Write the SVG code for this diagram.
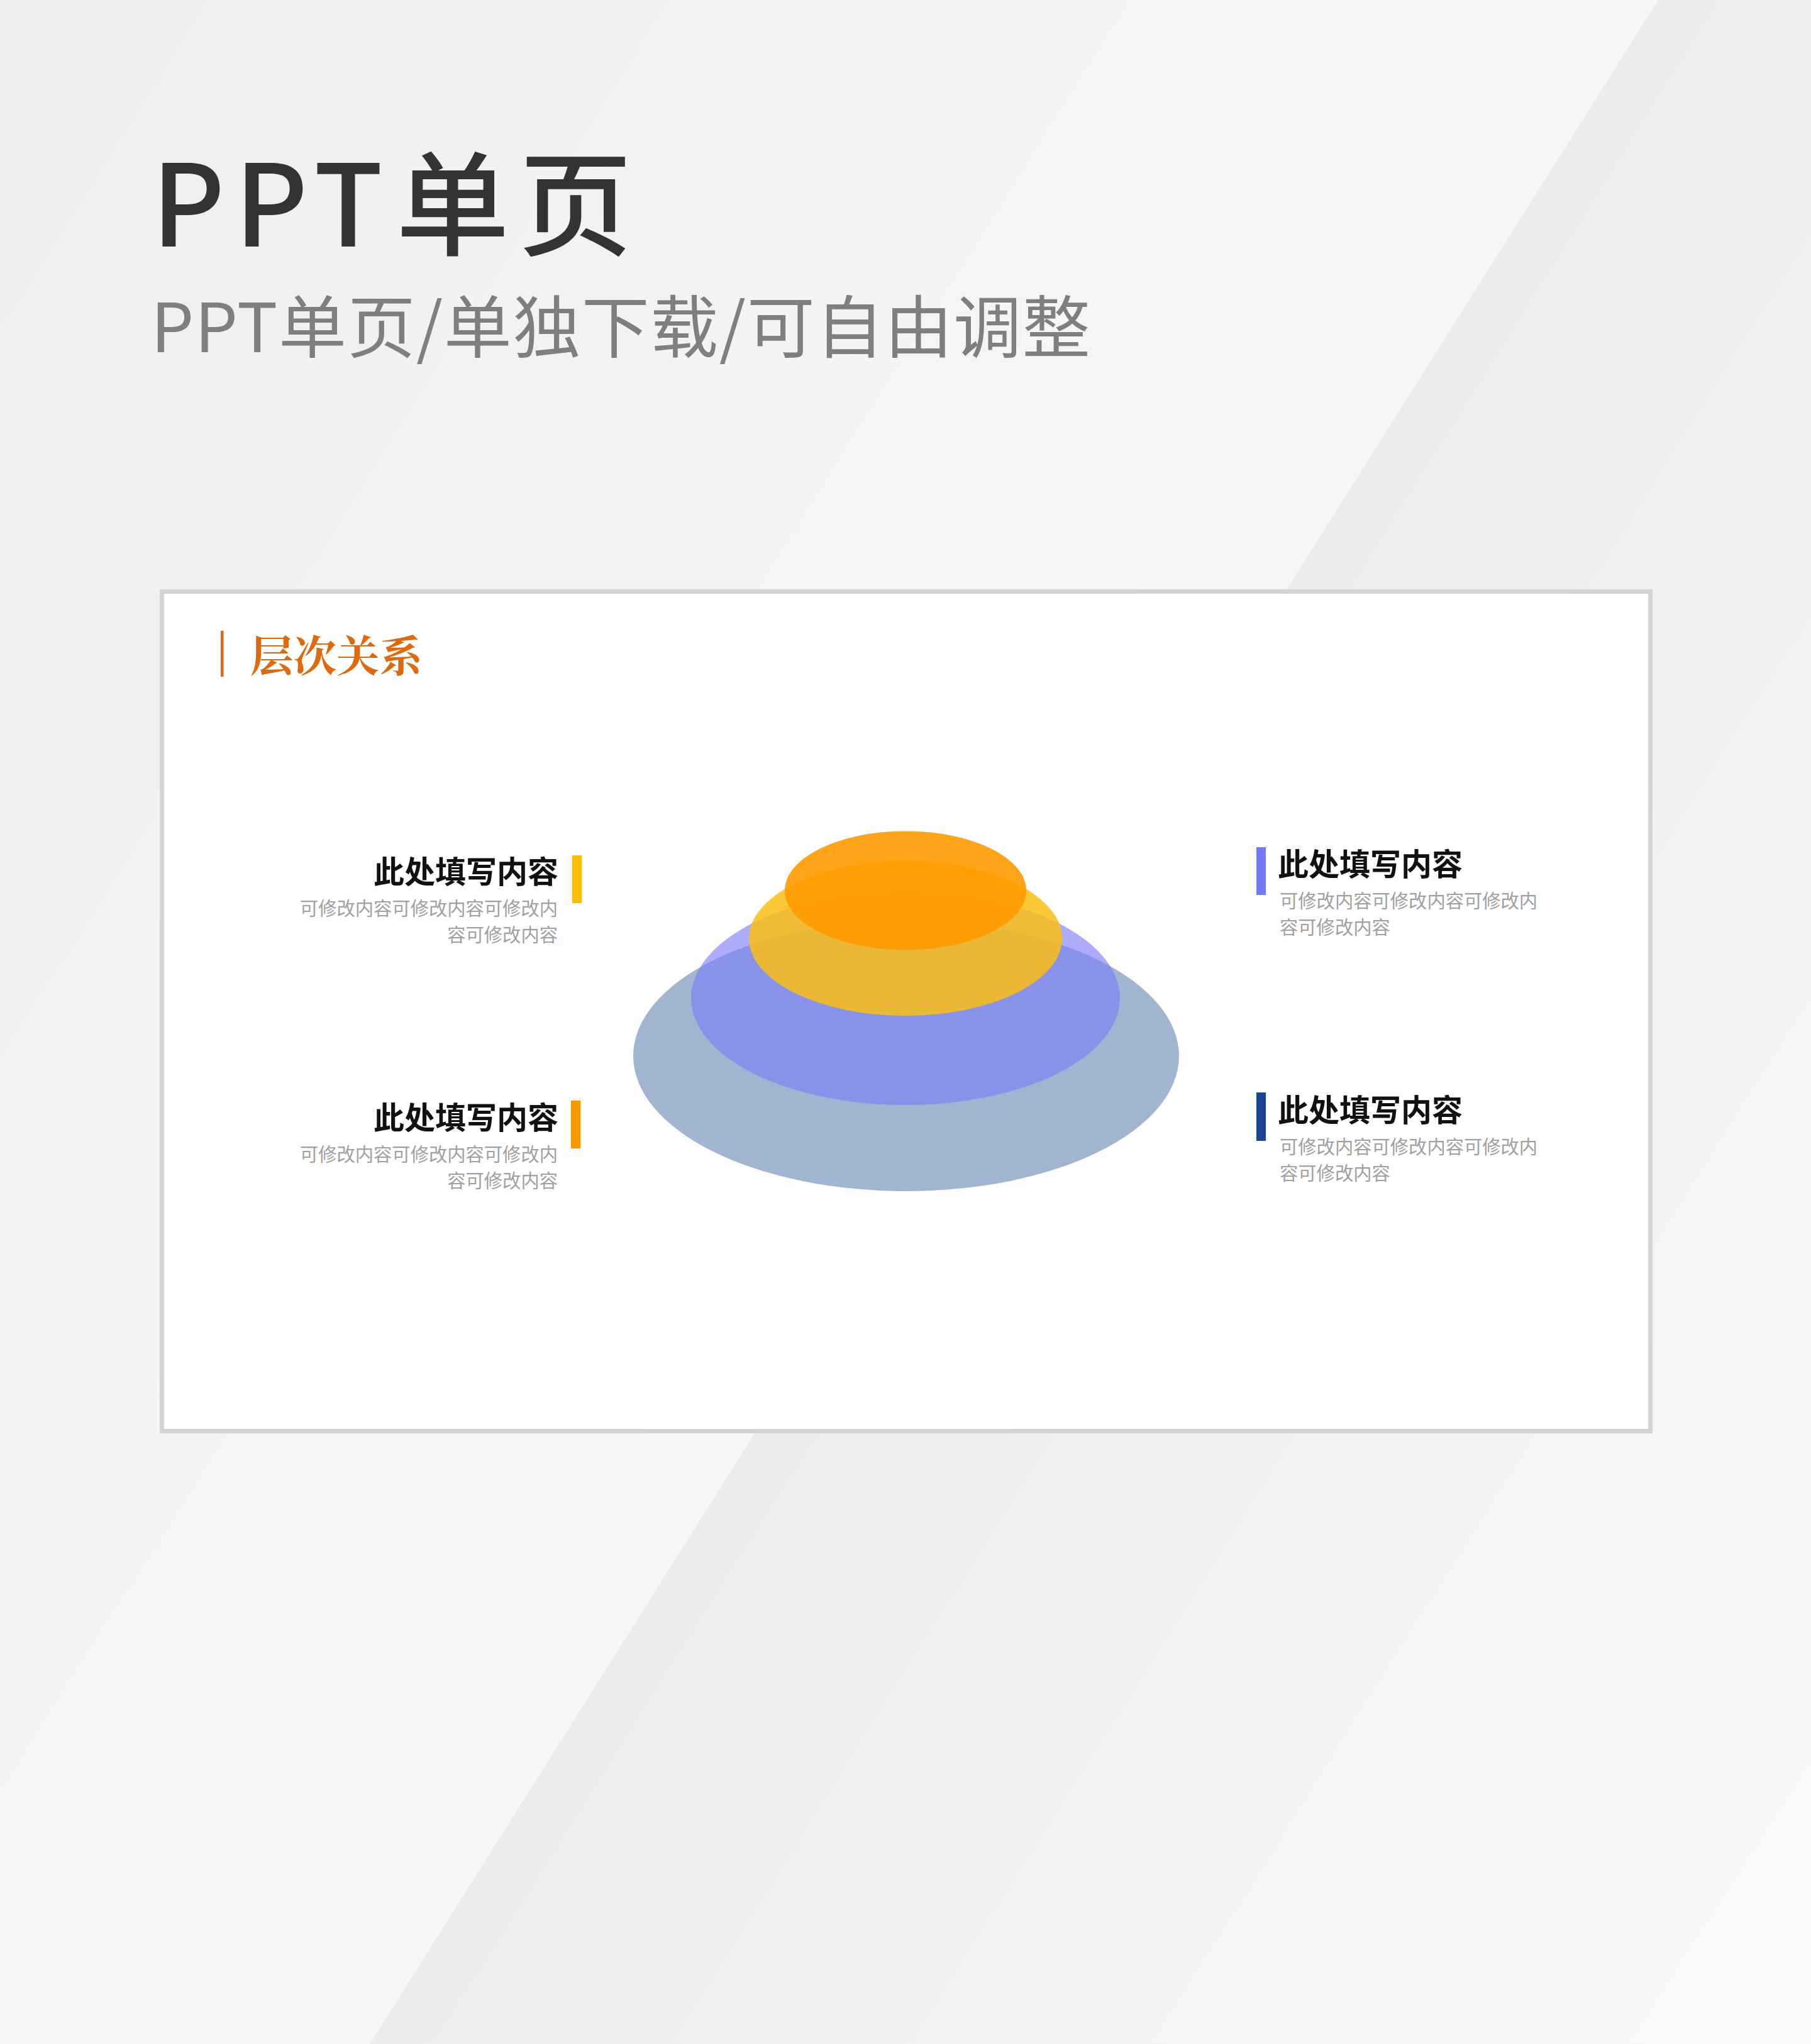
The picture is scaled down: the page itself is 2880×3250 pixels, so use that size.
<svg xmlns="http://www.w3.org/2000/svg" width="2880" height="3250" viewBox="0 0 2880 3250">
  <defs>
    <linearGradient id="bgL" gradientUnits="userSpaceOnUse" x1="0" y1="0" x2="1888" y2="1189">
      <stop offset="0" stop-color="#eeeeee"/>
      <stop offset="1" stop-color="#f7f7f7"/>
    </linearGradient>
    <linearGradient id="bgR" gradientUnits="userSpaceOnUse" x1="1888" y1="1189" x2="3527" y2="2221">
      <stop offset="0" stop-color="#ececec"/>
      <stop offset="1" stop-color="#fbfbfb"/>
    </linearGradient>
    <style>
      .title { font-family: "Noto Sans CJK SC", "Liberation Sans", sans-serif; font-weight: 700; font-size: 49px; fill: #111111; }
      .desc { font-family: "Noto Sans CJK SC", "Liberation Sans", sans-serif; font-weight: 400; font-size: 29.3px; fill: #a0a0a0; }
      .end { text-anchor: end; }
    </style>
  </defs>

  <!-- background -->
  <rect x="0" y="0" width="2880" height="3250" fill="url(#bgR)"/>
  <polygon points="0,0 2637,0 588,3250 0,3250" fill="url(#bgL)"/>

  <!-- page titles -->
  <g id="page-title">
    <text x="241 373 499 630 825" y="392" font-family="'Noto Sans CJK SC', 'Liberation Sans', sans-serif" font-weight="500" font-size="180" fill="#333333">PPT单页</text>
  </g>
  <g id="page-subtitle">
    <text x="240" y="560" font-family="'Noto Sans CJK SC', 'Liberation Sans', sans-serif" font-weight="400" font-size="108" letter-spacing="1.5" fill="#7f7f7f">PPT单页/单独下载/可自由调整</text>
  </g>

  <!-- card -->
  <g id="card">
    <rect x="257.5" y="940.5" width="2367" height="1335" fill="#ffffff" stroke="#d4d4d4" stroke-width="7"/>
  </g>

  <g id="card-header">
    <rect x="351" y="1003" width="4.5" height="73" fill="#e0660b"/>
    <text x="398" y="1068" font-family="'Noto Serif CJK SC', 'Noto Sans CJK SC', serif" font-weight="700" font-size="68.5" fill="#de6a10">层次关系</text>
  </g>

  <!-- layered ellipses -->
  <g id="layers">
    <ellipse id="layer-4" cx="1441" cy="1679" rx="434" ry="215" fill="#a1b5d1"/>
    <ellipse id="layer-3" cx="1440" cy="1587" rx="341" ry="170" fill="#7b7df7" fill-opacity="0.63"/>
    <ellipse id="layer-2" cx="1440" cy="1492" rx="249" ry="123" fill="#fcbe14" fill-opacity="0.85"/>
    <ellipse id="layer-1" cx="1440" cy="1416" rx="192" ry="94.5" fill="#ff9a00" fill-opacity="0.9"/>
  </g>

  <!-- connectors (none in picture) -->
  <g id="connectors"></g>

  <!-- text items -->
  <g id="item-top-left">
    <rect x="910" y="1360" width="15" height="76" fill="#f8be00"/>
    <text class="title end" x="888" y="1404">此处填写内容</text>
    <text class="desc end" x="887" y="1455">可修改内容可修改内容可修改内</text>
    <text class="desc end" x="887" y="1497">容可修改内容</text>
  </g>
  <g id="item-bottom-left">
    <rect x="908" y="1750" width="15" height="76" fill="#f79a00"/>
    <text class="title end" x="888" y="1795">此处填写内容</text>
    <text class="desc end" x="887" y="1846">可修改内容可修改内容可修改内</text>
    <text class="desc end" x="887" y="1888">容可修改内容</text>
  </g>
  <g id="item-top-right">
    <rect x="1998" y="1347" width="15" height="76" fill="#7679f6"/>
    <text class="title" x="2032" y="1392">此处填写内容</text>
    <text class="desc" x="2035" y="1443">可修改内容可修改内容可修改内</text>
    <text class="desc" x="2035" y="1485">容可修改内容</text>
  </g>
  <g id="item-bottom-right">
    <rect x="1998" y="1737" width="15" height="77" fill="#1a4590"/>
    <text class="title" x="2032" y="1783">此处填写内容</text>
    <text class="desc" x="2035" y="1834">可修改内容可修改内容可修改内</text>
    <text class="desc" x="2035" y="1876">容可修改内容</text>
  </g>
</svg>
